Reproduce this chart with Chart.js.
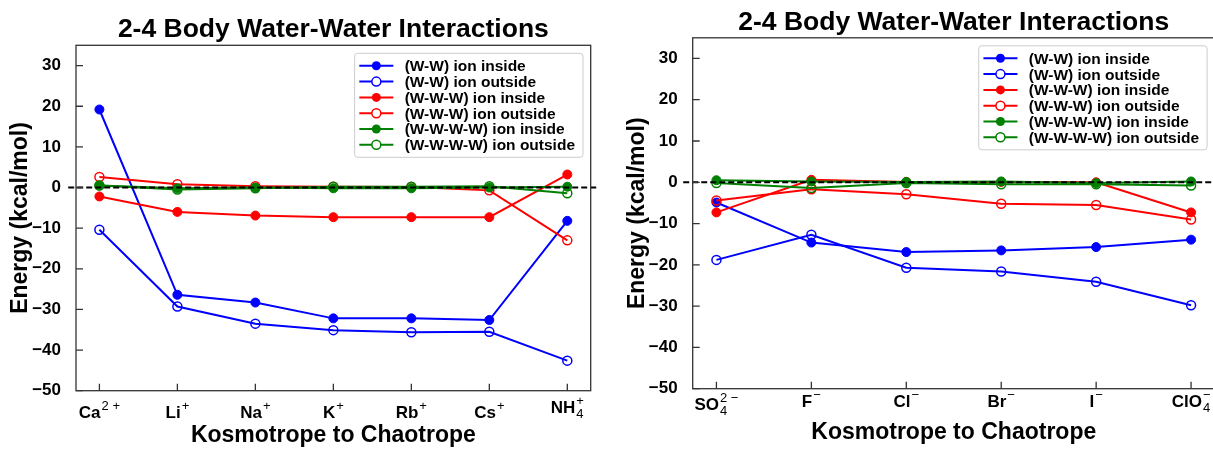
<!DOCTYPE html>
<html>
<head>
<meta charset="utf-8">
<script src="https://cdn.jsdelivr.net/npm/chart.js@4.4.0/dist/chart.umd.min.js"></script>
<style>
  html, body { margin: 0; padding: 0; background: #fff; overflow: hidden; }
  body { width: 1213px; height: 449px; position: relative; }
  .panel { position: absolute; top: 0; }
  #leftPanel { left: 0; }
  #rightPanel { left: 610px; }
</style>
</head>
<body>
<div class="panel" id="leftPanel"><canvas id="cationChart" width="600" height="449"></canvas></div>
<div class="panel" id="rightPanel"><canvas id="anionChart" width="620" height="449"></canvas></div>
<script>
// === DATA ===
const seriesNames = ['(W-W) ion inside', '(W-W) ion outside', '(W-W-W) ion inside',
  '(W-W-W) ion outside', '(W-W-W-W) ion inside', '(W-W-W-W) ion outside'];
const seriesColors = ['#0000ff', '#0000ff', '#ff0000', '#ff0000', '#008000', '#008000'];
const seriesFilled = [true, false, true, false, true, false];

const cationLabels = ['Ca^{2+}', 'Li^{+}', 'Na^{+}', 'K^{+}', 'Rb^{+}', 'Cs^{+}', 'NH_{4}^{+}'];
const cationWWIn = [19.2, -26.4, -28.3, -32.2, -32.2, -32.6, -8.2];
const cationWWOut = [-10.4, -29.3, -33.5, -35.1, -35.6, -35.5, -42.6];
const cationWWWIn = [-2.2, -6.0, -6.9, -7.3, -7.3, -7.3, 3.2];
const cationWWWOut = [2.6, 0.8, 0.3, 0.2, 0.1, -0.7, -13.0];
const cationWWWWIn = [0.5, -0.2, 0.0, -0.2, -0.2, 0.0, 0.2];
const cationWWWWOut = [0.5, -0.5, -0.2, 0.2, 0.2, 0.3, -1.4];

const anionLabels = ['SO_{4}^{2-}', 'F^{-}', 'Cl^{-}', 'Br^{-}', 'I^{-}', 'ClO_{4}^{-}'];
const anionWWIn = [-4.9, -14.6, -16.9, -16.5, -15.7, -13.9];
const anionWWOut = [-18.8, -12.7, -20.7, -21.6, -24.1, -29.8];
const anionWWWIn = [-7.3, 0.6, 0.1, 0.1, 0.0, -7.3];
const anionWWWOut = [-4.4, -1.7, -2.9, -5.2, -5.5, -9.0];
const anionWWWWIn = [0.5, 0.2, 0.1, 0.2, -0.2, 0.2];
const anionWWWWOut = [-0.2, -1.4, -0.2, -0.5, -0.5, -0.8];

const yTicksMin = -50;
const yTicksMax = 35;
const yTickStep = 10;

const chartTitle = '2-4 Body Water-Water Interactions';
const xTitle = 'Kosmotrope to Chaotrope';
const yTitle = 'Energy (kcal/mol)';

const FONT = '"Liberation Sans", Arial, Helvetica, sans-serif';

// split 'NH_{4}^{+}' into base / sub / sup
function parseLabel(s) {
  const m = s.match(/^([^_^]+)(?:_\{([^}]*)\})?(?:\^\{([^}]*)\})?$/);
  let sup = (m[3] || '').replace('-', '\u2212');
  if (sup.length > 1) sup = sup.slice(0, -1) + ' ' + sup.slice(-1);
  return { base: m[1], sub: m[2] || '', sup: sup };
}

// === DECORATION PLUGIN (spines, inward ticks, zero line, labels, title, legend) ===
const decorPlugin = {
  id: 'decor',
  afterDatasetsDraw(chart, args, opts) {
    const ctx = chart.ctx;
    const a = chart.chartArea;
    const xs = chart.scales.x, ys = chart.scales.y;
    const n = opts.labels.length;
    ctx.save();
    // zero line
    ctx.strokeStyle = '#000';
    ctx.lineWidth = 2;
    ctx.setLineDash([6, 3]);
    const y0 = ys.getPixelForValue(0);
    ctx.beginPath();
    ctx.moveTo(xs.getPixelForValue(xs.min - 0.1), y0);
    ctx.lineTo(xs.getPixelForValue(xs.max + 0.1), y0);
    ctx.stroke();
    ctx.setLineDash([]);
    // spines
    ctx.strokeStyle = '#333';
    ctx.lineWidth = 1.3;
    ctx.strokeRect(a.left, a.top, a.right - a.left, a.bottom - a.top);
    // inward ticks
    ctx.beginPath();
    for (let i = 0; i < n; i++) {
      const px = xs.getPixelForValue(i);
      ctx.moveTo(px, a.bottom);
      ctx.lineTo(px, a.bottom - 7);
    }
    ys.ticks.forEach(t => {
      const py = ys.getPixelForValue(t.value);
      ctx.moveTo(a.left, py);
      ctx.lineTo(a.left + 7, py);
    });
    ctx.stroke();
    ctx.restore();
  },
  afterDraw(chart, args, opts) {
    const ctx = chart.ctx;
    const a = chart.chartArea;
    const xs = chart.scales.x;
    ctx.save();
    ctx.fillStyle = '#000';
    ctx.textBaseline = 'alphabetic';
    ctx.textAlign = 'left';
    // category labels with sub/superscripts
    opts.labels.forEach((lab, i) => {
      const p = parseLabel(lab);
      ctx.font = 'bold 17px ' + FONT;
      const bw = ctx.measureText(p.base).width;
      ctx.font = '13px ' + FONT;
      const sw = Math.max(ctx.measureText(p.sub).width, ctx.measureText(p.sup).width);
      const total = bw + (sw ? sw + 1 : 0);
      const x0 = xs.getPixelForValue(i) - total / 2;
      let drop = p.sub ? opts.dropSub + (/\d/.test(p.sup) ? 3 : 0) : opts.dropPlain;
      const yb = a.bottom + drop;
      ctx.font = 'bold 17px ' + FONT;
      ctx.fillText(p.base, x0, yb);
      ctx.font = '13px ' + FONT;
      if (p.sup) ctx.fillText(p.sup, x0 + bw + 1, yb - 8);
      if (p.sub) ctx.fillText(p.sub, x0 + bw + 1, yb + 5.5);
    });
    // title
    ctx.font = 'bold 26.5px ' + FONT;
    ctx.textAlign = 'center';
    ctx.fillText(chartTitle, (a.left + a.right) / 2, a.top - 8);
    // legend
    ctx.font = 'bold 15.5px ' + FONT;
    ctx.textAlign = 'left';
    const sets = chart.data.datasets;
    const tw = Math.max(...sets.map(d => ctx.measureText(d.label).width));
    const boxW = 50 + tw + 8;
    const rowH = 15.8;
    const boxH = 12.5 * 2 + rowH * (sets.length - 1);
    const bx = a.right - 7.7 - boxW;
    const by = a.top + 8;
    ctx.fillStyle = 'rgba(255,255,255,0.85)';
    ctx.strokeStyle = '#cccccc';
    ctx.lineWidth = 1;
    ctx.beginPath();
    ctx.roundRect(bx, by, boxW, boxH, 3);
    ctx.fill();
    ctx.stroke();
    sets.forEach((d, i) => {
      const cy = by + 12.5 + i * rowH;
      ctx.strokeStyle = d.borderColor;
      ctx.lineWidth = 2;
      ctx.beginPath();
      ctx.moveTo(bx + 4.7, cy);
      ctx.lineTo(bx + 38.7, cy);
      ctx.stroke();
      ctx.beginPath();
      ctx.arc(bx + 21.7, cy, 4.5, 0, Math.PI * 2);
      if (d.pointBackgroundColor !== 'transparent') {
        ctx.fillStyle = d.borderColor;
        ctx.fill();
      } else {
        ctx.fillStyle = '#fff';
        ctx.fill();
        ctx.lineWidth = 1.5;
        ctx.stroke();
      }
      ctx.fillStyle = '#000';
      ctx.fillText(d.label, bx + 50, cy + 5.4);
    });
    ctx.restore();
  }
};

function makeChart(canvasId, labels, seriesValues, frame) {
  const n = labels.length;
  const margin = (n - 1) * 0.05;
  const datasets = seriesValues.map((vals, i) => ({
    label: seriesNames[i],
    data: vals.map((v, k) => ({ x: k, y: v })),
    borderColor: seriesColors[i],
    backgroundColor: seriesColors[i],
    pointBackgroundColor: seriesFilled[i] ? seriesColors[i] : 'transparent',
    pointBorderColor: seriesColors[i],
    pointBorderWidth: seriesFilled[i] ? 1 : 1.5,
    pointRadius: 4.5,
    pointHoverRadius: 4.5,
    borderWidth: 2,
    tension: 0,
    fill: false,
    order: seriesValues.length - i
  }));
  return new Chart(document.getElementById(canvasId), {
    type: 'line',
    data: { datasets },
    plugins: [decorPlugin],
    options: {
      responsive: false,
      animation: false,
      events: [],
      layout: { padding: { left: 0, top: frame.top, right: frame.right, bottom: 0 } },
      scales: {
        x: {
          type: 'linear',
          min: -margin,
          max: n - 1 + margin,
          grid: { display: false },
          border: { display: false },
          ticks: { display: false },
          afterFit: s => { s.height = frame.xHeight; },
          title: {
            display: true,
            text: xTitle,
            color: '#000',
            font: { family: FONT, size: 23, weight: 'bold' },
            padding: { top: 0, bottom: frame.xTitlePad }
          }
        },
        y: {
          min: yTicksMin,
          max: yTicksMax,
          grid: { display: false },
          border: { display: false },
          ticks: {
            stepSize: yTickStep,
            includeBounds: false,
            padding: 7,
            color: '#000',
            font: { family: FONT, size: 17, weight: 'bold' },
            callback: v => String(v).replace('-', '\u2212')
          },
          afterFit: s => { s.width = frame.yWidth; },
          title: {
            display: true,
            text: yTitle,
            color: '#000',
            font: { family: FONT, size: 23, weight: 'bold' },
            padding: { top: frame.yTitlePad, bottom: 0 }
          }
        }
      },
      plugins: {
        legend: { display: false },
        tooltip: { enabled: false },
        title: { display: false },
        decor: { labels: labels, dropPlain: frame.dropPlain, dropSub: frame.dropSub }
      }
    }
  });
}

// === CHARTS ===
makeChart('cationChart', cationLabels,
  [cationWWIn, cationWWOut, cationWWWIn, cationWWWOut, cationWWWWIn, cationWWWWOut],
  { top: 45.3, right: 9.3, yWidth: 76, xHeight: 58.3, yTitlePad: 7.2, xTitlePad: 0, dropPlain: 27.7, dropSub: 22 });

makeChart('anionChart', anionLabels,
  [anionWWIn, anionWWOut, anionWWWIn, anionWWWOut, anionWWWWIn, anionWWWWOut],
  { top: 37.8, right: 15.2, yWidth: 82.7, xHeight: 60.3, yTitlePad: 14.2, xTitlePad: 2.7, dropPlain: 18, dropSub: 18 });
</script>
</body>
</html>
